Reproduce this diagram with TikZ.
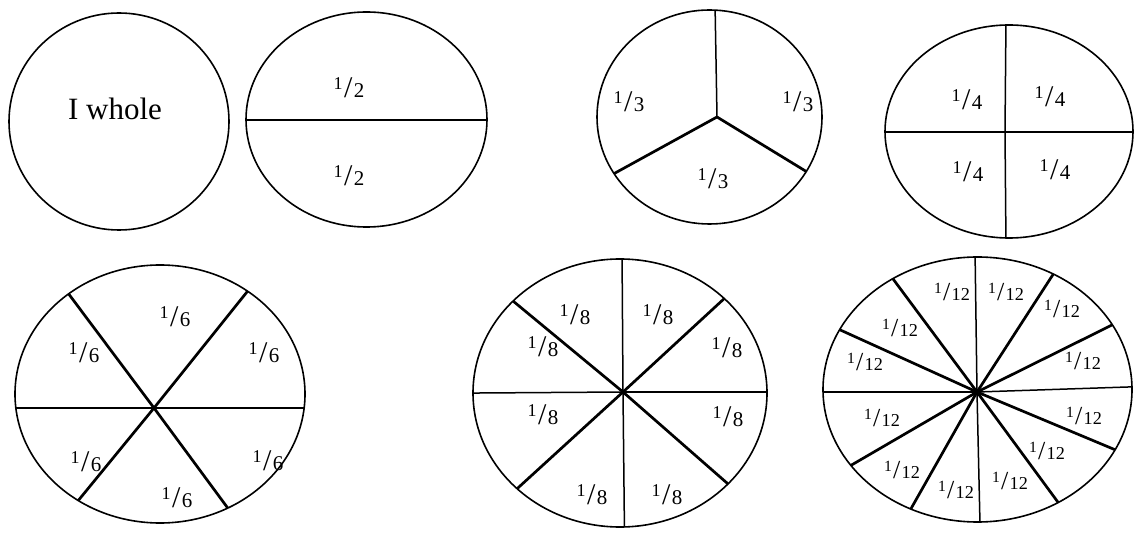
\documentclass[tikz,border=0pt]{standalone}
\usepackage{fontspec}
\setmainfont{Liberation Serif}
\usetikzlibrary{calc}
\newcommand\frc[1]{\raisebox{.27em}{\scalebox{.6}{1}}\kern.05em/\kern.05em\scalebox{.7}{#1}}
\tikzset{
  rim/.style={line width=1.6pt, black},
  spoke/.style={line width=1.5pt, line cap=round},
  bold/.style={line width=2.7pt, line cap=round},
  part/.style={inner sep=0pt, font=\fontsize{30}{30}\selectfont},
  twelfth/.style={inner sep=0pt, font=\fontsize{26}{26}\selectfont}
}
\begin{document}
\begin{tikzpicture}[x=1pt,y=1pt]
\useasboundingbox (0,0) rectangle (1135,533);

\coordinate (o1) at (119,411.5);
\draw[rim] (o1) ellipse [x radius=110, y radius=108.5];
\node[inner sep=0pt, font=\fontsize{31}{31}\selectfont] (w) at (115,424) {I whole};

\coordinate (o2) at (366.5,413.5);
\coordinate (h2) at (366.5,413);
\begin{scope}
\clip (o2) ellipse [x radius=120.5, y radius=107.5];
\draw[spoke] (h2) ++(180:200) -- ++(0:400);
\end{scope}
\draw[rim] (o2) ellipse [x radius=120.5, y radius=107.5];
\node[part] (h2a) at (349,445) {\frc{2}};
\node[part] (h2b) at (349,357) {\frc{2}};

\coordinate (o3) at (709.5,416);
\coordinate (h3) at (717,416);
\begin{scope}
\clip (o3) ellipse [x radius=112.5, y radius=107];
\draw[spoke] (h3) -- ++(91:200);
\foreach \a in {208.8,328.6} \draw[bold] (h3) -- ++(\a:200);
\end{scope}
\draw[rim] (o3) ellipse [x radius=112.5, y radius=107];
\node[part] (t1) at (629,431) {\frc{3}};
\node[part] (t2) at (798,431) {\frc{3}};
\node[part] (t3) at (713,354) {\frc{3}};

\coordinate (o4) at (1009,401.5);
\coordinate (h4) at (1005,401);
\begin{scope}
\clip (o4) ellipse [x radius=124, y radius=106.5];
\foreach \a in {0,89.5,180,270.5} \draw[spoke] (h4) -- ++(\a:200);
\end{scope}
\draw[rim] (o4) ellipse [x radius=124, y radius=106.5];
\node[part] (q1) at (967,433) {\frc{4}};
\node[part] (q2) at (1050,436) {\frc{4}};
\node[part] (q3) at (968,361) {\frc{4}};
\node[part] (q4) at (1055,363) {\frc{4}};

\coordinate (o6) at (160,139);
\coordinate (h6) at (154,125);
\begin{scope}
\clip (o6) ellipse [x radius=145, y radius=129];
\foreach \a in {0,180} \draw[spoke] (h6) -- ++(\a:250);
\foreach \a in {51.3,126.8,230.7,306.4} \draw[bold] (h6) -- ++(\a:250);
\end{scope}
\draw[rim] (o6) ellipse [x radius=145, y radius=129];
\node[part] (s1) at (175,216) {\frc{6}};
\node[part] (s2) at (84,180) {\frc{6}};
\node[part] (s3) at (264,180) {\frc{6}};
\node[part] (s4) at (86,71) {\frc{6}};
\node[part] (s5) at (177,35) {\frc{6}};
\node[part] (s6) at (268,72) {\frc{6}};

\coordinate (o8) at (620,140);
\coordinate (h8) at (623,141);
\begin{scope}
\clip (o8) ellipse [x radius=147, y radius=134];
\foreach \a in {0,90.4,180.4,270.6} \draw[spoke] (h8) -- ++(\a:250);
\foreach \a in {42.7,140.4,222.4,318.8} \draw[bold] (h8) -- ++(\a:250);
\end{scope}
\draw[rim] (o8) ellipse [x radius=147, y radius=134];
\node[part] (e1) at (575,218) {\frc{8}};
\node[part] (e2) at (658,218) {\frc{8}};
\node[part] (e3) at (543,186) {\frc{8}};
\node[part] (e4) at (727,185) {\frc{8}};
\node[part] (e5) at (543,118) {\frc{8}};
\node[part] (e6) at (728,116) {\frc{8}};
\node[part] (e7) at (592,38) {\frc{8}};
\node[part] (e8) at (667,38) {\frc{8}};

\coordinate (o12) at (977.5,143.5);
\coordinate (h12) at (977,141);
\begin{scope}
\clip (o12) ellipse [x radius=154.5, y radius=132.5];
\foreach \a in {1.9,90.8,180,271.3} \draw[spoke] (h12) -- ++(\a:250);
\foreach \a in {26.4,57.1,126.6,155.6,210.2,240.5,306.3,337.3} \draw[bold] (h12) -- ++(\a:250);
\end{scope}
\draw[rim] (o12) ellipse [x radius=154.5, y radius=132.5];
\node[twelfth] (d1) at (952,241) {\frc{12}};
\node[twelfth] (d2) at (1006,241) {\frc{12}};
\node[twelfth] (d3) at (1062,224) {\frc{12}};
\node[twelfth] (d4) at (1083,172) {\frc{12}};
\node[twelfth] (d5) at (900,205) {\frc{12}};
\node[twelfth] (d6) at (865,171) {\frc{12}};
\node[twelfth] (d7) at (882,115) {\frc{12}};
\node[twelfth] (d8) at (1084,117) {\frc{12}};
\node[twelfth] (d9) at (1047,82) {\frc{12}};
\node[twelfth] (d10) at (902,63) {\frc{12}};
\node[twelfth] (d11) at (956,43) {\frc{12}};
\node[twelfth] (d12) at (1010,52) {\frc{12}};
\end{tikzpicture}
\end{document}
